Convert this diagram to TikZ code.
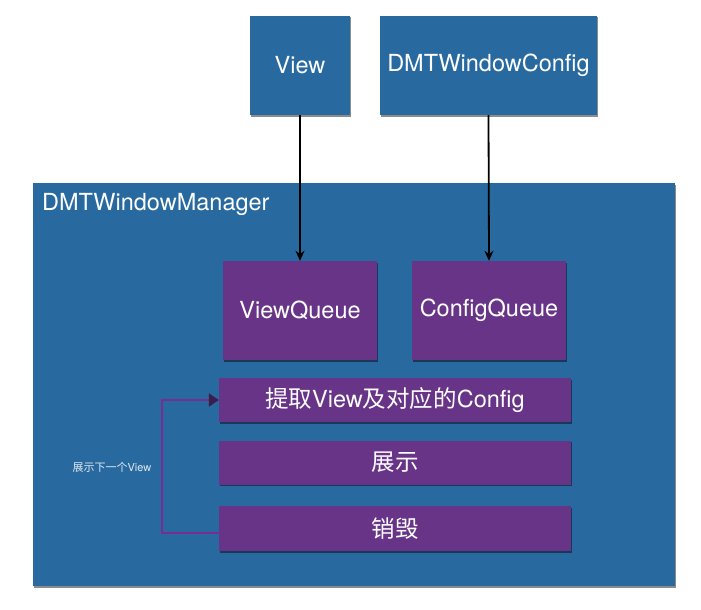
\documentclass[tikz,border=0pt]{standalone}
\usepackage{fontspec}
\setmainfont{TeX Gyre Heros}
\newfontfamily\cjk{Noto Sans CJK SC}
\usetikzlibrary{shadows,arrows.meta}
\definecolor{mblue}{RGB}{40,106,160}
\definecolor{mpurple}{RGB}{104,52,136}
\definecolor{lpurple}{RGB}{120,45,150}
\begin{document}
\begin{tikzpicture}[x=1pt,y=-1pt,
  shd/.style={drop shadow={shadow xshift=1.2pt,shadow yshift=-1.5pt,opacity=0.45,fill=black}},
  bluebox/.style={fill=mblue,draw=none,shd,text=white,font=\fontsize{23.5}{26}\selectfont,inner sep=0pt},
  purplebox/.style={fill=mpurple,draw=none,shd,text=white,font=\fontsize{23.5}{26}\selectfont,inner sep=0pt},
  conn/.style={draw=black,line width=1.8pt,-{Stealth[length=10pt,width=9pt]}},
  loopconn/.style={draw=lpurple,line width=2pt,-{Triangle[length=10pt,width=13pt,color=mpurple!55!black]}}]
\useasboundingbox (0,0) rectangle (701,610);
\fill[white] (0,0) rectangle (701,610);
\node[bluebox,minimum width=642pt,minimum height=403pt] (mgr) at (354,384.5) {};
\node[text=white,anchor=west,inner sep=0pt,font=\fontsize{23.5}{26}\selectfont] (mgrlabel) at (42,204) {DMTWindowManager};
\node[bluebox,minimum width=100pt,minimum height=99pt] (view) at (300,65.5) {View};
\node[bluebox,minimum width=217pt,minimum height=99pt] (cfg) at (488.5,65.5) {DMTWindowConfig};
\node[purplebox,minimum width=154pt,minimum height=99pt] (vq) at (300,310.5) {ViewQueue};
\node[purplebox,minimum width=154pt,minimum height=99pt] (cq) at (489,310.5) {ConfigQueue};
\node[purplebox,minimum width=352pt,minimum height=44pt] (fetch) at (395,400) {{\cjk 提取}View{\cjk 及对应的}Config};
\node[purplebox,minimum width=352pt,minimum height=44pt] (show) at (395,462.5) {\cjk 展示};
\node[purplebox,minimum width=352pt,minimum height=45pt] (destroy) at (395,528.5) {\cjk 销毁};
\node[text=white!85!mblue,inner sep=0pt,font=\fontsize{11}{13}\selectfont] (looplabel) at (112,467) {{\cjk 展示下一个}View};
\draw[conn] (view.south) -- (vq.north);
\draw[conn] (cfg.south) -- (cq.north);
\draw[loopconn] ([yshift=-4.5pt]destroy.west) -- ++(-57,0) |- (fetch.west);
\end{tikzpicture}
\end{document}
